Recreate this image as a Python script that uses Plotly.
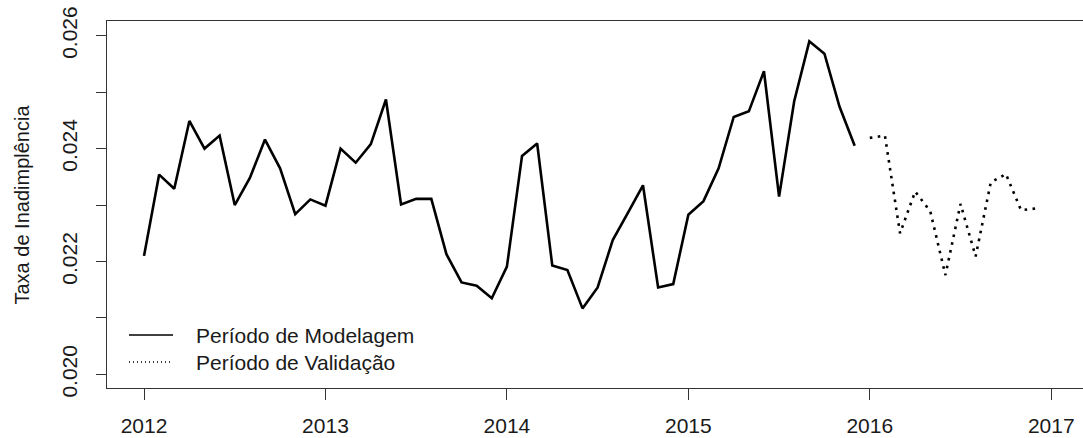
import plotly.graph_objects as go

# ---- data ----
modelagem_start = 2012  # January 2012, monthly
modelagem = [
    0.02210, 0.02354, 0.02329, 0.02449, 0.02400, 0.02423, 0.02300, 0.02348, 0.02416, 0.02365, 0.02284, 0.02310,  # 2012
    0.02299, 0.02400, 0.02375, 0.02408, 0.02487, 0.02301, 0.02311, 0.02311, 0.02213, 0.02163, 0.02157, 0.02135,  # 2013
    0.02191, 0.02387, 0.02409, 0.02193, 0.02185, 0.02117, 0.02154, 0.02238, 0.02286, 0.02335, 0.02154, 0.02160,  # 2014
    0.02283, 0.02307, 0.02365, 0.02456, 0.02466, 0.02537, 0.02315, 0.02484, 0.02590, 0.02568, 0.02474, 0.02405,  # 2015
]
validacao_start = 2016  # January 2016, monthly
validacao = [
    0.02419, 0.02423, 0.02250, 0.02324, 0.02289, 0.02176, 0.02302, 0.02209, 0.02340, 0.02355, 0.02291, 0.02294,  # 2016
]
x_ticks = [2012, 2013, 2014, 2015, 2016, 2017]
y_ticks = [0.020, 0.021, 0.022, 0.023, 0.024, 0.025, 0.026]
y_tick_labels = ["0.020", "", "0.022", "", "0.024", "", "0.026"]
legend_labels = ["Período de Modelagem", "Período de Validação"]
y_title = "Taxa de Inadimplência"

x_mod = [modelagem_start + i / 12 for i in range(len(modelagem))]
x_val = [validacao_start + i / 12 for i in range(len(validacao))]

FONT = "Liberation Sans, Arial, sans-serif"
TXT = "#1a1a1a"
FS = 21

fig = go.Figure()
fig.add_trace(go.Scatter(x=x_mod, y=modelagem, mode="lines", name=legend_labels[0],
                         line=dict(color="black", width=2.6), showlegend=False))
fig.add_trace(go.Scatter(x=x_val, y=validacao, mode="lines", name=legend_labels[1],
                         line=dict(color="black", width=2.6, dash="2.6px,5.4px"), showlegend=False))

# custom legend (R-style, no box)
W, H = 1083, 438
ml, mr, mt, mb = 107, 0, 21, 50
pw, ph = W - ml - mr, H - mt - mb
def px_x(p): return (p - ml) / pw
def px_y(p): return (H - mb - p) / ph

rows = [(335, "solid"), (362, "1px,3px")]
for (yp, dash), lab in zip(rows, legend_labels):
    fig.add_shape(type="line", xref="paper", yref="paper",
                  x0=px_x(129), x1=px_x(173), y0=px_y(yp), y1=px_y(yp),
                  line=dict(color="black", width=1.3, dash=dash))
    fig.add_annotation(xref="paper", yref="paper", x=px_x(194), y=px_y(yp),
                       xanchor="left", yanchor="middle", showarrow=False,
                       text=lab, font=dict(family=FONT, size=FS, color=TXT))

# y-axis title
fig.add_annotation(xref="paper", yref="paper", x=0, y=0.5, xshift=-86,
                   xanchor="center", yanchor="middle", textangle=-90, showarrow=False,
                   text=y_title, font=dict(family=FONT, size=20, color=TXT))

fig.update_layout(
    width=W, height=H,
    margin=dict(l=ml, r=mr, t=mt, b=mb),
    plot_bgcolor="white", paper_bgcolor="white",
    font=dict(family=FONT, size=FS, color=TXT),
    xaxis=dict(range=[2011.796, 2017.175], tickmode="array", tickvals=x_ticks,
               ticktext=[str(v) for v in x_ticks], showgrid=False, zeroline=False,
               showline=True, mirror=True, linecolor="#333", linewidth=1.3,
               ticks="outside", ticklen=11, tickwidth=1.3, tickcolor="#333",
               ticklabelstandoff=8),
    yaxis=dict(range=[0.01976, 0.02626], tickmode="array", tickvals=y_ticks,
               ticktext=y_tick_labels, tickangle=-90, showgrid=False, zeroline=False,
               showline=True, mirror=False, linecolor="#333", linewidth=1.3,
               ticks="outside", ticklen=10, tickwidth=1.3, tickcolor="#333",
               ticklabelstandoff=10),
)

fig.write_html("out.html", config={"displayModeBar": False},
               post_script="document.body.style.margin='0';document.body.style.overflow='hidden';")
